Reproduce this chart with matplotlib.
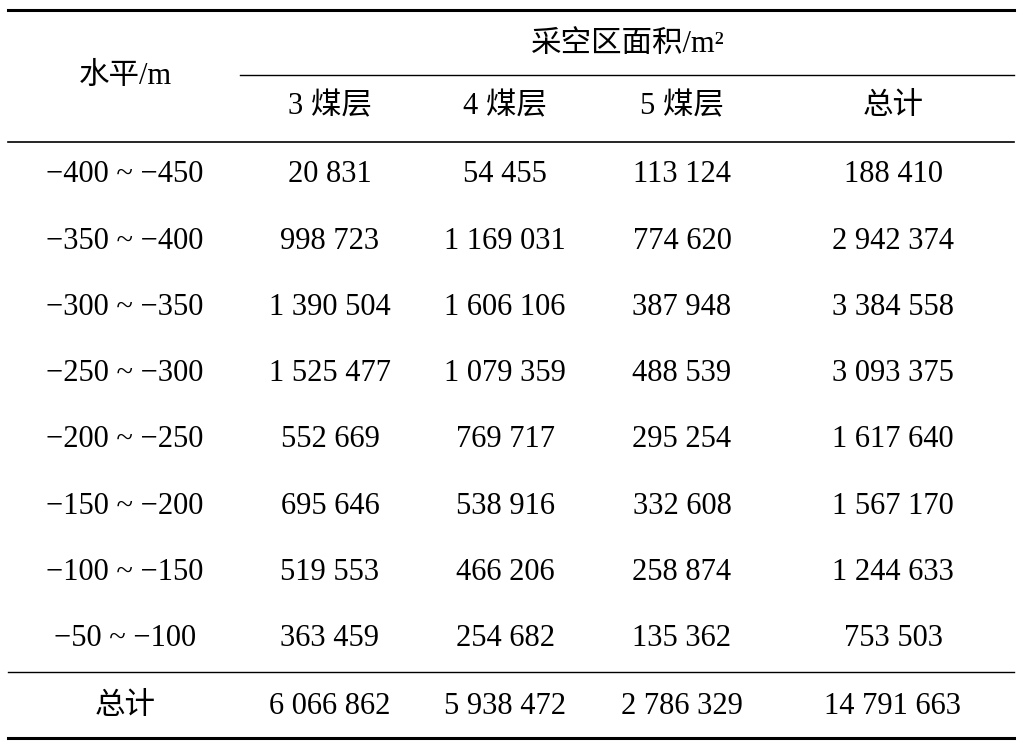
import matplotlib
matplotlib.use("Agg")
import matplotlib.pyplot as plt

levels = ["−400 ~ −450","−350 ~ −400","−300 ~ −350","−250 ~ −300","−200 ~ −250","−150 ~ −200","−100 ~ −150","−50 ~ −100"]
seam3 = ["20 831","998 723","1 390 504","1 525 477","552 669","695 646","519 553","363 459"]
seam4 = ["54 455","1 169 031","1 606 106","1 079 359","769 717","538 916","466 206","254 682"]
seam5 = ["113 124","774 620","387 948","488 539","295 254","332 608","258 874","135 362"]
total = ["188 410","2 942 374","3 384 558","3 093 375","1 617 640","1 567 170","1 244 633","753 503"]
sum_row = ["总计","6 066 862","5 938 472","2 786 329","14 791 663"]
sub_headers = ["3 煤层","4 煤层","5 煤层","总计"]

fam = ["Liberation Serif","Noto Sans CJK SC","DejaVu Sans"]
fig = plt.figure(figsize=(10.24,7.52), dpi=100)
ax = fig.add_axes([0,0,1,1])
ax.set_xlim(0,1024); ax.set_ylim(752,0); ax.axis("off")
fs = 22
xs = [125,330,505,682,893]
def t(x,y,s):
    ax.text(x,y,s,ha="center",va="center",fontsize=fs,family=fam)

ax.plot([8,1014],[10,10],color="black",lw=2.2)
ax.plot([240,1014],[75,75],color="black",lw=1.0)
ax.plot([8,1014],[142,142],color="black",lw=1.2)
ax.plot([8,1014],[672,672],color="black",lw=1.0)
ax.plot([8,1014],[738,738],color="black",lw=2.2)

t(125,76,"水平/m")
t(628,44,"采空区面积/m²")
for x,s in zip(xs[1:],sub_headers):
    t(x,107,s)
for i in range(len(levels)):
    y = 175 + i*66.2
    for x,s in zip(xs,[levels[i],seam3[i],seam4[i],seam5[i],total[i]]):
        t(x,y,s)
for x,s in zip(xs,sum_row):
    t(x,706,s)
fig.savefig("out.png",dpi=100)
